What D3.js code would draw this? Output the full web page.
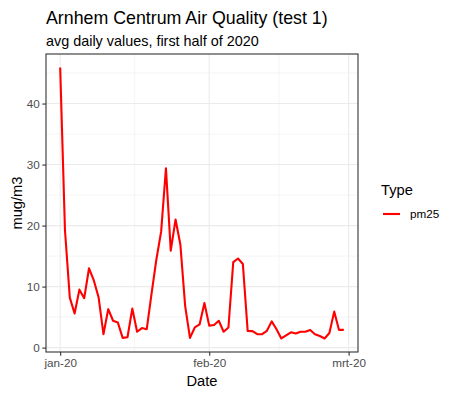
<!DOCTYPE html>
<html>
<head>
<meta charset="utf-8">
<script src="https://cdn.jsdelivr.net/npm/d3@7"></script>
<style>
  body { margin: 0; background: #fff; }
  text { font-family: "Liberation Sans", Arial, sans-serif; }
</style>
</head>
<body>
<div id="chart"></div>
<script>
// chart text
const title = "Arnhem Centrum Air Quality (test 1)";
const subtitle = "avg daily values, first half of 2020";
const xLabel = "Date";
const yLabel = "mug/m3";
const legendTitle = "Type";
const seriesName = "pm25";

// daily values, 1 jan 2020 .. 29 feb 2020
const pm25 = [45.9, 19.2, 8.2, 5.6, 9.5, 8.1, 13.0, 11.0, 8.2, 2.2,
              6.3, 4.4, 4.1, 1.6, 1.7, 6.4, 2.6, 3.2, 3.0, 8.8,
              14.4, 19.0, 29.4, 15.9, 21.0, 16.9, 6.8, 1.6, 3.3, 3.8,
              7.3, 3.6, 3.7, 4.4, 2.6, 3.3, 14.0, 14.6, 13.7, 2.75,
              2.7, 2.2, 2.2, 2.75, 4.3, 3.0, 1.5, 2.0, 2.5, 2.3,
              2.6, 2.6, 2.9, 2.2, 1.9, 1.5, 2.4, 5.9, 2.9, 2.9];
const days = d3.utcDay.range(new Date(Date.UTC(2020, 0, 1)), new Date(Date.UTC(2020, 2, 1)));

// axis ticks
const xTicks = [new Date(Date.UTC(2020, 0, 1)), new Date(Date.UTC(2020, 1, 1)), new Date(Date.UTC(2020, 2, 1))];
const xTickLabels = ["jan-20", "feb-20", "mrt-20"];
const yTicks = [0, 10, 20, 30, 40];

const data = days.map(function (d, i) { return { date: d, value: pm25[i] }; });

const W = 457, H = 397;
const margin = { left: 46, top: 54, right: 99, bottom: 45 };
const pw = W - margin.left - margin.right;
const ph = H - margin.top - margin.bottom;

// ggplot style 5% expansion
function expand(ext) {
  const pad = (ext[1] - ext[0]) * 0.05;
  return [ext[0] - pad, ext[1] + pad];
}
const xExt = d3.extent(data, d => +d.date);
const x = d3.scaleUtc().domain(expand(xExt)).range([0, pw]);
const y = d3.scaleLinear().domain(expand(d3.extent(pm25))).range([ph, 0]);

const svg = d3.select("#chart").append("svg")
  .attr("width", W).attr("height", H);

svg.append("text")
  .attr("x", margin.left).attr("y", 24)
  .attr("font-size", 17.8).attr("fill", "#000")
  .text(title);
svg.append("text")
  .attr("x", margin.left).attr("y", 46)
  .attr("font-size", 14.4).attr("fill", "#000")
  .text(subtitle);

const g = svg.append("g").attr("transform", `translate(${margin.left},${margin.top})`);

// minor grid
const yMinor = yTicks.map(t => t + 5).filter(t => t < y.domain()[1]);
const xMinor = d3.pairs(xTicks).map(p => new Date((+p[0] + +p[1]) / 2));
g.selectAll(".ymin").data(yMinor).enter().append("line")
  .attr("x1", 0).attr("x2", pw)
  .attr("y1", d => y(d)).attr("y2", d => y(d))
  .attr("stroke", "#ebebeb").attr("stroke-width", 0.55);
g.selectAll(".xmin").data(xMinor).enter().append("line")
  .attr("y1", 0).attr("y2", ph)
  .attr("x1", d => x(d)).attr("x2", d => x(d))
  .attr("stroke", "#ebebeb").attr("stroke-width", 0.55);

// major grid
g.selectAll(".ymaj").data(yTicks).enter().append("line")
  .attr("x1", 0).attr("x2", pw)
  .attr("y1", d => y(d)).attr("y2", d => y(d))
  .attr("stroke", "#ebebeb").attr("stroke-width", 1.1);
g.selectAll(".xmaj").data(xTicks).enter().append("line")
  .attr("y1", 0).attr("y2", ph)
  .attr("x1", d => x(d)).attr("x2", d => x(d))
  .attr("stroke", "#ebebeb").attr("stroke-width", 1.1);

// the series line
const line = d3.line().x(d => x(d.date)).y(d => y(d.value));
g.append("path")
  .datum(data)
  .attr("fill", "none")
  .attr("stroke", "#ff0000")
  .attr("stroke-width", 2.1)
  .attr("stroke-linejoin", "round")
  .attr("d", line);

// panel border
g.append("rect")
  .attr("x", 0).attr("y", 0).attr("width", pw).attr("height", ph)
  .attr("fill", "none").attr("stroke", "#333333").attr("stroke-width", 1.1);

// axes
const xAxis = d3.axisBottom(x).tickValues(xTicks)
  .tickFormat((d, i) => xTickLabels[i]).tickSizeOuter(0).tickSize(3.7).tickPadding(3);
const yAxis = d3.axisLeft(y).tickValues(yTicks).tickSizeOuter(0).tickSize(3.7).tickPadding(2.5);

const gx = g.append("g").attr("transform", `translate(0,${ph})`).call(xAxis);
const gy = g.append("g").call(yAxis);
[gx, gy].forEach(function (a) {
  a.select(".domain").remove();
  a.selectAll(".tick line").attr("stroke", "#333333").attr("stroke-width", 1.1);
  a.selectAll(".tick text").attr("fill", "#4d4d4d").attr("font-size", 11.7)
    .attr("font-family", "Liberation Sans, Arial, sans-serif");
});

// axis titles
svg.append("text")
  .attr("x", margin.left + pw / 2).attr("y", 386)
  .attr("text-anchor", "middle").attr("font-size", 14.7).attr("fill", "#000")
  .text(xLabel);
svg.append("text")
  .attr("transform", `translate(22,${margin.top + ph / 2}) rotate(-90)`)
  .attr("text-anchor", "middle").attr("font-size", 14.7).attr("fill", "#000")
  .text(yLabel);

// legend
const lg = svg.append("g").attr("transform", "translate(381,0)");
lg.append("text").attr("x", 0).attr("y", 195)
  .attr("font-size", 14.7).attr("fill", "#000").text(legendTitle);
lg.append("line").attr("x1", 2).attr("x2", 19).attr("y1", 214).attr("y2", 214)
  .attr("stroke", "#ff0000").attr("stroke-width", 2.1);
lg.append("text").attr("x", 29).attr("y", 218)
  .attr("font-size", 11.7).attr("fill", "#000").text(seriesName);
</script>
</body>
</html>
